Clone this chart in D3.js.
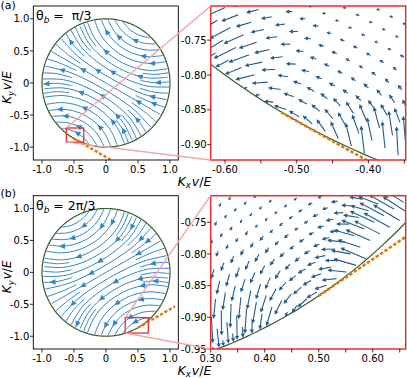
<!DOCTYPE html>
<html><head><meta charset="utf-8">
<script src="https://cdn.jsdelivr.net/npm/d3@7"></script>
<style>
body{margin:0;background:#fff}
svg{display:block}
text{font-family:"DejaVu Sans",sans-serif;fill:#000}
</style></head>
<body><svg id="c" width="407" height="378"></svg>
<script>
// ---------------- data ----------------
const thetaB = [Math.PI/3, 2*Math.PI/3];
const panelLetters = ["(a)", "(b)"];
const thetaValueText = [" =  π/3", " = 2π/3"];
const mainXTicks = [-1.0, -0.5, 0, 0.5, 1.0];
const mainXTickLabels = ["-1.0", "-0.5", "0", "0.5", "1.0"];
const mainYTicks = [1.0, 0.5, 0, -0.5, -1.0];
const mainYTickLabels = ["1.0", "0.5", "0", "-0.5", "-1.0"];
const mainXDomain = [-1.136, 1.13];
const mainYDomain = [-1.2, 1.2];
const insetXDomain = [[-0.62, -0.348], [0.30, 0.661]];
const insetYDomain = [[-0.922, -0.701], [-0.95, -0.708]];
const insetXTicks = [[-0.60, -0.55, -0.50, -0.45, -0.40, -0.35], [0.30, 0.35, 0.40, 0.45, 0.50, 0.55, 0.60, 0.65]];
const insetXTickLabels = [["-0.60", "", "-0.50", "", "-0.40", ""], ["0.30", "", "0.40", "", "0.50", "", "0.60", ""]];
const insetYTicks = [[-0.75, -0.80, -0.85, -0.90], [-0.75, -0.80, -0.85, -0.90, -0.95]];
const insetYTickLabels = [["-0.75", "-0.80", "-0.85", "-0.90"], ["-0.75", "-0.80", "-0.85", "-0.90", "-0.95"]];
// orange tangent segment: parameter along the tangent direction from the point -b
const tangentSpan = [[-0.025, 0.67], [0, 0.67]];

// streamlines traced in the frame aligned with b: u along z×b, w along b (flow towards +u)
const streamLines = [
 [[-0.98,0],[0,0],[0.98,0]],
 [[-0.95,0.247],[-0.6,0.143],[-0.3,0.109],[0,0.1],[0.3,0.109],[0.6,0.143],[0.95,0.247]],
 [[-0.95,-0.247],[-0.6,-0.143],[-0.3,-0.109],[0,-0.1],[0.3,-0.109],[0.6,-0.143],[0.95,-0.247]],
 [[-0.89,0.442],[-0.6,0.287],[-0.3,0.219],[0,0.2],[0.3,0.219],[0.6,0.287],[0.89,0.442]],
 [[-0.89,-0.442],[-0.6,-0.287],[-0.3,-0.219],[0,-0.2],[0.3,-0.219],[0.6,-0.287],[0.89,-0.442]],
 [[-0.79,0.56],[-0.55,0.406],[-0.3,0.328],[0,0.3],[0.3,0.328],[0.55,0.406],[0.79,0.56]],
 [[-0.79,-0.56],[-0.55,-0.406],[-0.3,-0.328],[0,-0.3],[0.3,-0.328],[0.55,-0.406],[0.79,-0.56]],
 [[-0.72,0.672],[-0.5,0.514],[-0.25,0.426],[0,0.4],[0.25,0.426],[0.5,0.514],[0.72,0.672]],
 [[-0.72,-0.672],[-0.5,-0.514],[-0.25,-0.426],[0,-0.4],[0.25,-0.426],[0.5,-0.514],[0.72,-0.672]],
 [[-0.645,0.758],[-0.45,0.612],[-0.22,0.525],[0,0.5],[0.22,0.525],[0.45,0.612],[0.645,0.758]],
 [[-0.645,-0.758],[-0.45,-0.612],[-0.22,-0.525],[0,-0.5],[0.22,-0.525],[0.45,-0.612],[0.645,-0.758]],
 [[-0.555,0.816],[-0.38,0.693],[-0.19,0.622],[0,0.6],[0.19,0.622],[0.38,0.693],[0.555,0.816]],
 [[-0.555,-0.816],[-0.38,-0.693],[-0.19,-0.622],[0,-0.6],[0.19,-0.622],[0.38,-0.693],[0.555,-0.816]],
 [[-0.47,0.873],[-0.3,0.766],[-0.15,0.716],[0,0.7],[0.15,0.716],[0.3,0.766],[0.47,0.873]],
 [[-0.47,-0.873],[-0.3,-0.766],[-0.15,-0.716],[0,-0.7],[0.15,-0.716],[0.3,-0.766],[0.47,-0.873]],
 [[-0.37,0.917],[-0.2,0.833],[0,0.8],[0.2,0.833],[0.37,0.917]],
 [[-0.37,-0.917],[-0.2,-0.833],[0,-0.8],[0.2,-0.833],[0.37,-0.917]],
 [[-0.25,0.958],[-0.12,0.913],[0,0.9],[0.12,0.913],[0.25,0.958]],
 [[-0.25,-0.958],[-0.12,-0.913],[0,-0.9],[0.12,-0.913],[0.25,-0.958]],
 [[0.5,0.064],[0.75,0.088],[0.98,0.131]],
 [[-0.98,0.131],[-0.75,0.088],[-0.5,0.064]],
 [[0.5,-0.064],[0.75,-0.088],[0.98,-0.131]],
 [[-0.98,-0.131],[-0.75,-0.088],[-0.5,-0.064]],
 [[0.5,0.193],[0.75,0.263],[0.925,0.353]],
 [[-0.925,0.353],[-0.75,0.263],[-0.5,0.193]],
 [[0.5,-0.193],[0.75,-0.263],[0.925,-0.353]],
 [[-0.925,-0.353],[-0.75,-0.263],[-0.5,-0.193]],
 [[0.45,0.306],[0.65,0.381],[0.845,0.51]],
 [[-0.845,0.51],[-0.65,0.381],[-0.45,0.306]],
 [[0.45,-0.306],[0.65,-0.381],[0.845,-0.51]],
 [[-0.845,-0.51],[-0.65,-0.381],[-0.45,-0.306]],
 [[0.42,0.418],[0.6,0.502],[0.765,0.628]],
 [[-0.765,0.628],[-0.6,0.502],[-0.42,0.418]],
 [[0.42,-0.418],[0.6,-0.502],[0.765,-0.628]],
 [[-0.765,-0.628],[-0.6,-0.502],[-0.42,-0.418]]
];
// where the arrowheads sit on each streamline (u coordinate in the same frame)
const streamArrowU = [
 [-0.58,0.42],[-0.73,0.215],[0.70],[0.0],[-0.05],[-0.4],[-0.4,0.27],[0.25],[-0.39],[-0.47],[0.1],
 [-0.29,0.39],[-0.26,0.42],[0.19],[0.29],[-0.06],[0.03],[],[0.0],
 [],[-0.8],[],[],[0.8],[],[],[-0.7],[],[-0.7],[0.8],[],[],[],[],[-0.6]
];

// quiver lattice around the point -b : s along the tangent, t along b
const sGrid = [-0.252,-0.231,-0.21,-0.189,-0.168,-0.147,-0.126,-0.105,-0.084,-0.063,-0.042,-0.021,0,
               0.021,0.042,0.063,0.084,0.105,0.126,0.147,0.168,0.189,0.21,0.231,0.252];
const tGrid = [0.007,0.028,0.049,0.07,0.091,0.112,0.133,0.154,0.175,0.196,0.217,0.238,0.259];
const quiverStart = [6,1,1,2,2,3,3,4,4,5,6,6,7];
// arrow directions as read in panel (a) (degrees, screen), rotated with theta_b for (b)
const quiverAngle = [
 [210,204,196,186,174,162,150,138,126,114,104,97,92],
 [222,220,218,216,213,208,202,194,184,172,161,150,140,130,120,110,102,96,93,91,89,87,85],
 [220,218,216,214,211,206,200,192,182,171,160,150,141,132,122,113,105,99,95,92,90,88,86],
 [216,213,211,208,204,199,193,186,178,169,160,151,143,135,127,119,111,104,99,95,92,90],
 [210,207,204,201,197,192,187,181,174,166,158,151,144,137,130,123,116,110,105,101],
 [203,200,197,194,190,186,181,175,168,161,155,148,142,136,130,124,119,114],
 [197,195,193,190,187,183,179,174,169,163,157,152,146,141,136,131],
 [191,189,188,186,183,180,177,173,168,163,158,153,148,143],
 [189,188,186,185,183,180,177,173,169,165,160,155,150],
 [187,186,184,182,180,178,175,171,167,162,157,153],
 [185,184,182,180,178,175,172,168,163,158],
 [184,183,181,179,177,175,172,168,164,160],
 [182,180]
];
const quiverMag = [
 [30,28,24,19,15,13,12,13,15,19,24,28,30],
 [32,32,31,30,29,27,24,20,16,13,11,10,11,13,16,20,24,27,29,30,31,32,32],
 [30,30,29,28,27,25,22,18,14,11,9,9,9,11,14,18,22,25,27,28,29,30,30],
 [27,26,25,24,22,19,16,13,10,8,7,7,7,8,10,13,16,19,22,24,25,26],
 [22,21,20,18,16,14,12,10,8,7,6,6,6,7,8,10,12,14,16,18],
 [17,16,14,13,11,10,9,7,6,6,5,5,6,6,7,9,10,11],
 [12,11,10,9,8,7,6,6,5,5,5,5,5,5,6,7],
 [7,6,6,5,5,5,4,4,4,4,4,4,5,5],
 [6,5,5,5,5,4,4,4,4,4,4,4,4],
 [5,5,5,4,4,4,4,4,4,4,4,4],
 [5,4,4,4,4,4,4,4,4,4],
 [4,4,4,4,4,4,4,4,4,4],
 [4,4]
];

// ---------------- layout & style ----------------
const rowTop = [6, 195.7], rowBot = [160, 349];
const letterY = [9.2, 196.5];
const mainLeft = 33.3, mainRight = 178.3, insLeft = 210.7, insRight = 405.7;
const C = {frame:"#000", stream:"#3484c6", quiver:"#245c8c", circle:"#3c5c2c",
           orange:"#dc7a10", red:"#e6302d", pink:"#f4a4a4"};

const svg = d3.select("#c");
const defs = svg.append("defs");
const magScale = d3.scaleLinear().domain([0, 1]).range([0, 1]);

function arrowPath(x0, y0, angDeg, len) {
  const a = angDeg * Math.PI / 180, ux = Math.cos(a), uy = -Math.sin(a), nx = -uy, ny = ux;
  const hl = Math.min(4.2, len * 0.6), hw = Math.min(2.1, 0.9 + hl * 0.3), sw = 0.55;
  const bx = x0 + ux * (len - hl), by = y0 + uy * (len - hl), tx = x0 + ux * len, ty = y0 + uy * len;
  return `M${x0+nx*sw},${y0+ny*sw}L${bx+nx*sw},${by+ny*sw}L${bx+nx*hw},${by+ny*hw}L${tx},${ty}` +
         `L${bx-nx*hw},${by-ny*hw}L${bx-nx*sw},${by-ny*sw}L${x0-nx*sw},${y0-ny*sw}Z`;
}

function drawTicksX(g, sx, y, ticks, labels) {
  ticks.forEach((v, i) => {
    g.append("line").attr("x1", sx(v)).attr("x2", sx(v)).attr("y1", y).attr("y2", y + 3.5)
      .attr("stroke", C.frame).attr("stroke-width", 0.8);
    if (labels[i]) g.append("text").attr("x", sx(v)).attr("y", y + 13).attr("text-anchor", "middle")
      .attr("font-size", 10).text(labels[i]);
  });
}
function drawTicksY(g, sy, x, ticks, labels) {
  ticks.forEach((v, i) => {
    g.append("line").attr("x1", x - 3.5).attr("x2", x).attr("y1", sy(v)).attr("y2", sy(v))
      .attr("stroke", C.frame).attr("stroke-width", 0.8);
    if (labels[i]) g.append("text").attr("x", x - 4).attr("y", sy(v) + 3.6).attr("text-anchor", "end")
      .attr("font-size", 10).text(labels[i]);
  });
}
function mathLabel(g, sub) {
  g.append("tspan").text("K");
  g.append("tspan").attr("dy", 2.5).attr("font-size", 8.5).text(sub);
  g.append("tspan").attr("dy", -2.5).attr("dx", 1).text("v");
  g.append("tspan").attr("font-style", "normal").text("/");
  g.append("tspan").text("E");
}

const circleAngles = d3.range(0, 360.5, 1).map(d => d * Math.PI / 180);

[0, 1].forEach(p => {
  const th = thetaB[p];
  const bh = [Math.cos(th), Math.sin(th)];
  const ep = [-Math.sin(th), Math.cos(th)];
  const P = [-bh[0], -bh[1]];
  const e1 = [-ep[0], -ep[1]];
  const top = rowTop[p], bot = rowBot[p];

  // ---------- main panel ----------
  const sx = d3.scaleLinear().domain(mainXDomain).range([mainLeft, mainRight]);
  const sy = d3.scaleLinear().domain(mainYDomain).range([bot, top]);
  const g = svg.append("g");
  defs.append("clipPath").attr("id", "cm" + p).append("rect")
    .attr("x", mainLeft).attr("y", top).attr("width", mainRight - mainLeft).attr("height", bot - top);
  const gc = g.append("g").attr("clip-path", `url(#cm${p})`);

  const line = d3.line().x(d => sx(d[0])).y(d => sy(d[1]));
  gc.append("path").attr("d", line(circleAngles.map(a => [Math.cos(a), Math.sin(a)])))
    .attr("fill", "none").attr("stroke", C.circle).attr("stroke-width", 1.2);

  const toXY = d => [d[0] * ep[0] + d[1] * bh[0], d[0] * ep[1] + d[1] * bh[1]];
  const uOf = (px, py) => { const x = sx.invert(px), y = sy.invert(py); return x * ep[0] + y * ep[1]; };
  const sline = d3.line().x(d => sx(d[0])).y(d => sy(d[1])).curve(d3.curveCatmullRom.alpha(0.5));
  streamLines.forEach((ln, li) => {
    const pts = ln.map(toXY);
    const path = gc.append("path").attr("d", sline(pts)).attr("fill", "none")
      .attr("stroke", C.stream).attr("stroke-width", 1);
    const node = path.node(), L = node.getTotalLength();
    const samples = d3.range(0, 201).map(k => { const q = node.getPointAtLength(L * k / 200); return {l: L * k / 200, u: uOf(q.x, q.y)}; });
    streamArrowU[li].forEach(ua => {
      const best = samples.reduce((a, b) => Math.abs(b.u - ua) < Math.abs(a.u - ua) ? b : a);
      const m = node.getPointAtLength(best.l), a = node.getPointAtLength(Math.max(0, best.l - 1.5)),
            b = node.getPointAtLength(Math.min(L, best.l + 1.5));
      const ang = Math.atan2(b.y - a.y, b.x - a.x);
      const hl = 6, hw = 2.8, c = Math.cos(ang), s = Math.sin(ang);
      const tx = m.x + c * hl / 2, ty = m.y + s * hl / 2, bx = m.x - c * hl / 2, by = m.y - s * hl / 2;
      gc.append("path").attr("d", `M${tx},${ty}L${bx - s * hw},${by + c * hw}L${bx + s * hw},${by - c * hw}Z`)
        .attr("fill", C.stream);
    });
  });

  const tan = tangentSpan[p].map(u => [P[0] + u * e1[0], P[1] + u * e1[1]]);
  gc.append("path").attr("d", line(tan)).attr("stroke", C.orange).attr("stroke-width", 2.4)
    .attr("stroke-dasharray", "3.2,1.9").attr("fill", "none");

  const xd = insetXDomain[p], yd = insetYDomain[p];
  g.append("rect").attr("x", sx(xd[0])).attr("y", sy(yd[1])).attr("width", sx(xd[1]) - sx(xd[0]))
    .attr("height", sy(yd[0]) - sy(yd[1])).attr("fill", "none").attr("stroke", C.red).attr("stroke-width", 1.3);

  g.append("rect").attr("x", mainLeft).attr("y", top).attr("width", mainRight - mainLeft)
    .attr("height", bot - top).attr("fill", "none").attr("stroke", C.frame).attr("stroke-width", 0.9);
  drawTicksX(g, sx, bot, mainXTicks, mainXTickLabels);
  drawTicksY(g, sy, mainLeft, mainYTicks, mainYTickLabels);

  const tt = g.append("text").attr("x", 36).attr("y", top + 14).attr("font-size", 12.5)
    .style("white-space", "pre");
  tt.append("tspan").text("θ");
  tt.append("tspan").attr("dy", 3).attr("font-size", 9).attr("font-style", "italic").text("b");
  tt.append("tspan").attr("dy", -3).text(thetaValueText[p]);

  g.append("text").attr("x", 0.5).attr("y", letterY[p]).attr("font-size", 11).text(panelLetters[p]);

  const yl = g.append("text").attr("transform", `translate(11,${(top + bot) / 2 + 4.5}) rotate(-90)`)
    .attr("text-anchor", "middle").attr("font-size", 12).attr("font-style", "italic");
  mathLabel(yl, "y");

  const xl = g.append("text").attr("x", 194.5).attr("y", bot + 25.5)
    .attr("text-anchor", "middle").attr("font-size", 12.5).attr("font-style", "italic");
  mathLabel(xl, "x");

  // ---------- inset ----------
  const ix = d3.scaleLinear().domain(xd).range([insLeft, insRight]);
  const iy = d3.scaleLinear().domain(yd).range([bot, top]);
  const kx = (insRight - insLeft) / (xd[1] - xd[0]), ky = (bot - top) / (yd[1] - yd[0]);
  const gi = svg.append("g");
  defs.append("clipPath").attr("id", "ci" + p).append("rect")
    .attr("x", insLeft).attr("y", top).attr("width", insRight - insLeft).attr("height", bot - top);
  const gic = gi.append("g").attr("clip-path", `url(#ci${p})`);
  const iline = d3.line().x(d => ix(d[0])).y(d => iy(d[1]));

  const rot = (th - Math.PI / 3) * 180 / Math.PI;
  tGrid.forEach((t, j) => {
    quiverAngle[j].forEach((angA, k) => {
      const s = sGrid[quiverStart[j] + k];
      const K = [P[0] + s * e1[0] + t * bh[0], P[1] + s * e1[1] + t * bh[1]];
      if (Math.hypot(K[0], K[1]) > 1) return;
      if (K[0] < xd[0] - 0.01 || K[0] > xd[1] + 0.01 || K[1] < yd[0] - 0.01 || K[1] > yd[1] + 0.01) return;
      const x0 = ix(K[0]), y0 = iy(K[1]);
      const ang = angA + rot;
      let len = magScale(quiverMag[j][k]);
      // keep the arrow inside the disk: stop it at the boundary
      const a = ang * Math.PI / 180;
      const v = [len * Math.cos(a) / kx, len * Math.sin(a) / ky];
      const A = v[0] * v[0] + v[1] * v[1], B = 2 * (K[0] * v[0] + K[1] * v[1]), Cc = K[0] * K[0] + K[1] * K[1] - 1;
      const lam = (-B + Math.sqrt(B * B - 4 * A * Cc)) / (2 * A);
      if (lam < 1) len = len * lam * 0.97;
      if (len < 3) return;
      gic.append("path").attr("d", arrowPath(x0, y0, ang, len)).attr("fill", C.quiver);
    });
  });

  gic.append("path").attr("d", iline(circleAngles.map(a => [Math.cos(a), Math.sin(a)])))
    .attr("fill", "none").attr("stroke", C.circle).attr("stroke-width", 1.2);
  gic.append("path").attr("d", iline(tan)).attr("stroke", C.orange).attr("stroke-width", 2.6)
    .attr("stroke-dasharray", "3.4,1.9").attr("fill", "none");

  gi.append("rect").attr("x", insLeft).attr("y", top).attr("width", insRight - insLeft)
    .attr("height", bot - top).attr("fill", "none").attr("stroke", C.red).attr("stroke-width", 1.5);
  drawTicksX(gi, ix, bot, insetXTicks[p], insetXTickLabels[p]);
  drawTicksY(gi, iy, insLeft, insetYTicks[p], insetYTickLabels[p]);

  // connectors
  svg.append("line").attr("x1", sx(xd[0])).attr("y1", sy(yd[1])).attr("x2", insLeft).attr("y2", top)
    .attr("stroke", C.pink).attr("stroke-width", 1.4);
  svg.append("line").attr("x1", sx(xd[0])).attr("y1", sy(yd[0])).attr("x2", insLeft).attr("y2", bot)
    .attr("stroke", C.pink).attr("stroke-width", 1.4);
});
</script>
</body></html>
